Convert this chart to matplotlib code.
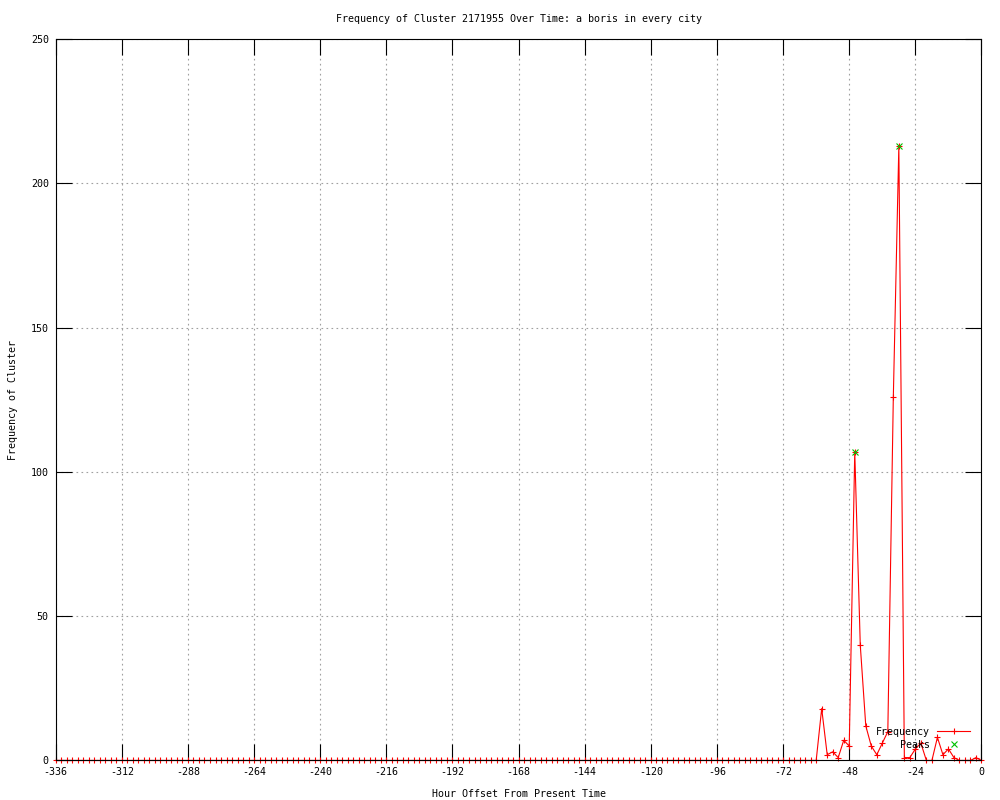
import matplotlib
matplotlib.use("Agg")
import matplotlib.pyplot as plt

plt.rcParams['font.family'] = ['DejaVu Sans Mono']
plt.rcParams['axes.unicode_minus'] = False

# data: one sample every 2 hours, -336 .. 0
hours = list(range(-336, 1, 2))

# -336 .. -62 : nothing happening
freq_quiet = [
    0, 0, 0, 0, 0, 0, 0, 0, 0, 0, 0, 0, 0, 0, 0, 0, 0, 0, 0, 0, 0, 0, 0,
    0, 0, 0, 0, 0, 0, 0, 0, 0, 0, 0, 0, 0, 0, 0, 0, 0, 0, 0, 0, 0, 0, 0,
    0, 0, 0, 0, 0, 0, 0, 0, 0, 0, 0, 0, 0, 0, 0, 0, 0, 0, 0, 0, 0, 0, 0,
    0, 0, 0, 0, 0, 0, 0, 0, 0, 0, 0, 0, 0, 0, 0, 0, 0, 0, 0, 0, 0, 0, 0,
    0, 0, 0, 0, 0, 0, 0, 0, 0, 0, 0, 0, 0, 0, 0, 0, 0, 0, 0, 0, 0, 0, 0,
    0, 0, 0, 0, 0, 0, 0, 0, 0, 0, 0, 0, 0, 0, 0, 0, 0, 0, 0, 0, 0, 0, 0,
]
# -60 .. 0
freq_recent = [0, 18, 2, 3, 1, 7, 5, 107, 40, 12, 5, 2, 6, 10, 126, 213,
               1, 1, 4, 6, 0, 0, 8, 2, 4, 1, 0, 0, 0, 1, 0]
freq = freq_quiet + freq_recent

peak_hours = [-46, -30]
peak_vals = [107, 213]

x_ticks = list(range(-336, 1, 24))
y_ticks = [0, 50, 100, 150, 200, 250]

fig = plt.figure(figsize=(10, 8), dpi=100)
ax = fig.add_axes([0.0557, 0.0494, 0.9258, 0.9019])

ax.plot(hours, freq, color='red', lw=0.8, marker='+', ms=5, mew=0.8,
        clip_on=False, label='Frequency')
ax.plot(peak_hours, peak_vals, ls='none', marker='x', color='#00c000',
        ms=5, mew=0.8, clip_on=False, label='    Peaks')

ax.set_xlim(-336, 0)
ax.set_ylim(0, 250)
ax.set_xticks(x_ticks)
ax.set_yticks(y_ticks)
ax.tick_params(direction='in', length=11.5, width=0.8, top=True, right=True,
               labelsize=7.2, pad=5)
ax.set_axisbelow(True)
ax.grid(True, color='#a0a0a0', linestyle=(0, (1.5, 3)), lw=0.8)
for s in ax.spines.values():
    s.set_linewidth(0.8)

ax.set_title('Frequency of Cluster 2171955 Over Time: a boris in every city',
             fontsize=7.2, pad=12)
ax.set_xlabel('Hour Offset From Present Time', fontsize=7.2, labelpad=8)
ax.set_ylabel('Frequency of Cluster', fontsize=7.2, labelpad=9)

ax.legend(loc='lower right', bbox_to_anchor=(0.9876, 0.0146), frameon=False,
          fontsize=7.2, handlelength=3.3, handletextpad=0.7, labelspacing=0.3,
          borderpad=0, borderaxespad=0, markerfirst=False)

fig.savefig('out.png', dpi=100)
